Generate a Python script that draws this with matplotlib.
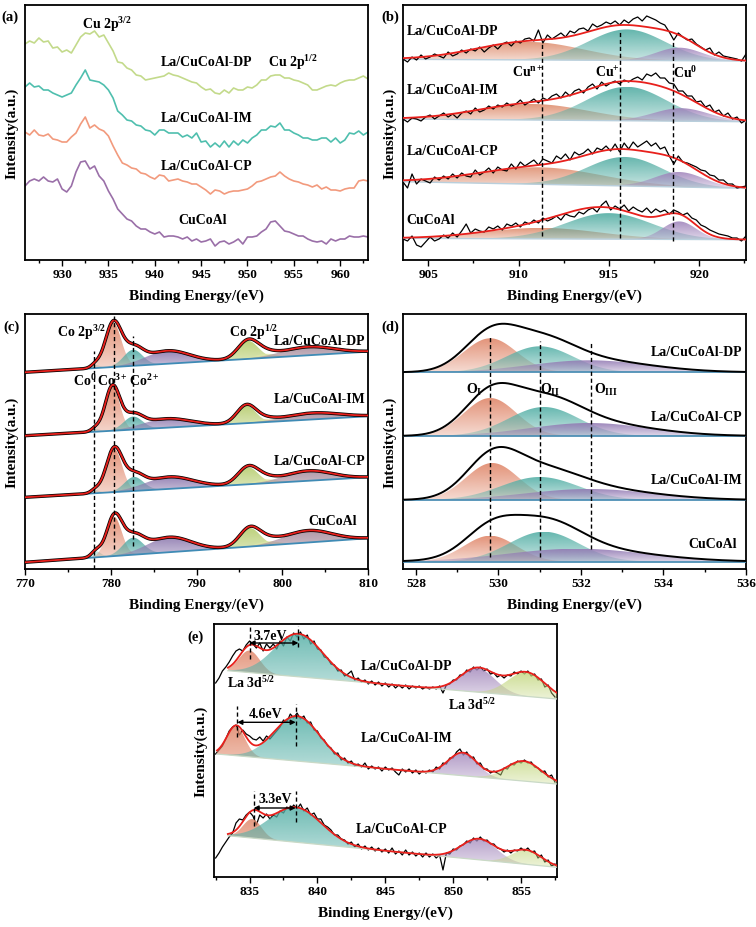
import numpy as np
import matplotlib
matplotlib.use("Agg")
import matplotlib.pyplot as plt
import matplotlib.colors as mcolors
from matplotlib.ticker import MultipleLocator

plt.rcParams['font.family'] = ['Liberation Serif', 'DejaVu Serif']
plt.rcParams['font.weight'] = 'bold'
plt.rcParams['axes.labelweight'] = 'bold'
plt.rcParams['mathtext.fontset'] = 'custom'
plt.rcParams['mathtext.rm'] = 'Liberation Serif:bold'
plt.rcParams['mathtext.it'] = 'Liberation Serif:bold:italic'
plt.rcParams['mathtext.bf'] = 'Liberation Serif:bold'
plt.rcParams['mathtext.default'] = 'rm'

# ---------------- (a) Cu 2p, stacked spectra, 926-963 eV step 0.5 ----------------
a_start, a_step = 926.0, 0.5
a_dp = [216, 219, 217, 222, 218, 219, 212, 213, 208, 210, 207, 215, 223, 227, 226, 229, 223, 225, 217, 209,
        198, 197, 192, 190, 185, 184, 180, 181, 182, 183, 184, 187, 185, 184, 182, 180, 178, 177, 173, 170,
        171, 167, 166, 170, 167, 172, 170, 170, 173, 172, 175, 180, 180, 184, 185, 185, 182, 182, 180, 179,
        177, 175, 170, 170, 172, 174, 175, 174, 177, 179, 180, 180, 182, 184, 181]
a_im = [173, 177, 173, 174, 170, 170, 167, 165, 163, 165, 167, 175, 182, 190, 180, 179, 178, 175, 170, 162,
        149, 145, 140, 139, 135, 134, 130, 129, 125, 130, 130, 127, 127, 127, 123, 125, 122, 127, 118, 119,
        113, 117, 113, 119, 113, 119, 115, 120, 117, 122, 125, 130, 130, 134, 133, 137, 130, 130, 127, 125,
        122, 122, 120, 120, 122, 122, 118, 122, 117, 120, 127, 126, 129, 125, 128]
a_cp = [128, 125, 130, 125, 124, 126, 121, 120, 118, 118, 123, 127, 136, 143, 132, 135, 131, 129, 124, 114,
        105, 97, 95, 92, 91, 87, 86, 83, 81, 85, 84, 79, 80, 81, 79, 78, 76, 76, 73, 70,
        66, 70, 69, 66, 68, 69, 69, 70, 71, 74, 78, 79, 81, 83, 84, 88, 84, 81, 79, 78,
        76, 75, 73, 75, 71, 73, 70, 70, 69, 71, 72, 72, 79, 80, 79]
a_cu = [74, 79, 81, 79, 83, 79, 78, 81, 71, 68, 74, 88, 98, 99, 91, 94, 84, 79, 69, 61,
        51, 46, 41, 39, 34, 31, 31, 28, 26, 28, 23, 24, 24, 23, 21, 23, 19, 21, 18, 19,
        21, 14, 18, 19, 16, 18, 21, 16, 23, 23, 24, 28, 31, 38, 39, 34, 29, 28, 26, 24,
        24, 21, 19, 18, 19, 16, 21, 19, 21, 21, 24, 23, 23, 24, 23]

# ---------------- (b) Cu LMM, raw step 0.25 eV from 903.6 ----------------
b_start, b_step = 903.6, 0.25
b_dp_raw = [201, 198, 203, 200, 205, 201, 203, 206, 204, 202, 208, 204, 206, 210, 207, 211, 209, 213, 208, 212,
            215, 211, 216, 218, 214, 219, 217, 221, 222, 219, 230, 217, 225, 221, 224, 227, 223, 229, 227, 231,
            232, 229, 236, 233, 235, 238, 236, 239, 235, 240, 237, 241, 243, 239, 244, 242, 240, 237, 235, 228,
            220, 227, 223, 220, 221, 216, 213, 210, 212, 205, 208, 204, 203, 202, 201, 199, 206]
b_im_raw = [141, 138, 142, 141, 139, 143, 145, 141, 144, 147, 143, 146, 142, 147, 149, 146, 152, 148, 150, 154,
            151, 155, 153, 157, 154, 156, 160, 155, 158, 161, 157, 162, 160, 164, 166, 162, 168, 164, 169, 171,
            167, 173, 176, 171, 178, 174, 177, 179, 176, 180, 178, 181, 183, 180, 186, 184, 187, 182, 182, 177,
            176, 169, 169, 164, 164, 158, 159, 153, 155, 148, 150, 144, 147, 141, 143, 137, 140]
b_cp_raw = [78, 72, 86, 76, 81, 79, 77, 83, 80, 84, 81, 86, 82, 87, 84, 83, 90, 85, 88, 92,
            87, 93, 90, 89, 96, 91, 98, 94, 97, 100, 95, 101, 99, 97, 104, 101, 106, 100, 108, 105,
            107, 111, 106, 112, 110, 114, 109, 116, 108, 117, 111, 118, 113, 116, 119, 114, 117, 111, 113, 104,
            96, 104, 98, 97, 95, 93, 90, 89, 85, 84, 80, 80, 76, 76, 72, 73, 74]
b_cu_raw = [21, 19, 24, 15, 13, 18, 23, 19, 21, 25, 22, 27, 23, 29, 36, 27, 31, 29, 28, 33,
            31, 34, 30, 36, 34, 37, 33, 38, 36, 40, 37, 42, 39, 41, 44, 40, 46, 44, 43, 48,
            46, 50, 52, 48, 55, 59, 50, 54, 51, 55, 49, 53, 50, 48, 52, 47, 51, 48, 50, 46,
            50, 48, 45, 47, 42, 40, 35, 33, 30, 28, 26, 25, 24, 22, 22, 19, 24]
# baselines (left, right) and fitted peaks (centre eV, height, FWHM): Cu n+, Cu+, Cu0
b_dp_base = (200.7, 199.0)
b_im_base = (141.0, 138.3)
b_cp_base = (78.3, 71.7)
b_cu_base = (21.7, 20.3)
b_dp_peaks = [(910.6, 18, 7.0), (916.0, 31, 5.0), (918.9, 13, 3.0)]
b_im_peaks = [(910.8, 16, 7.2), (916.0, 34, 5.2), (919.0, 13, 3.6)]
b_cp_peaks = [(911.2, 17, 8.0), (915.9, 29, 5.0), (918.9, 15, 3.2)]
b_cu_peaks = [(911.3, 11, 7.5), (915.0, 26, 5.6), (918.9, 18, 2.2)]

# ---------------- (c) Co 2p fits ----------------
# peaks: Co0, Co3+, Co2+, sat, 2p1/2, 2p1/2 Co2+, sat
c_dp_base = (196.7, 217.3)
c_im_base = (133.3, 152.7)
c_cp_base = (71.7, 91.7)
c_cu_base = (6.7, 30.7)
c_dp_peaks = [(778.2, 3, 1.2), (780.3, 44, 2.2), (782.6, 16, 2.6), (786.6, 13, 6.0),
              (796.0, 18, 2.8), (798.0, 4, 3.0), (803.0, 8.5, 7.0)]
c_im_peaks = [(778.2, 3, 1.2), (780.2, 44, 2.0), (782.6, 13, 2.6), (786.5, 9, 6.5),
              (795.8, 17.5, 2.6), (797.8, 3, 3.0), (803.5, 6.5, 7.5)]
c_cp_peaks = [(778.2, 3, 1.2), (780.4, 43, 2.2), (782.7, 14, 2.6), (786.8, 12, 6.5),
              (796.0, 17, 2.8), (798.0, 4, 3.0), (803.0, 10, 6.5)]
c_cu_peaks = [(778.3, 6, 1.3), (780.4, 39, 2.1), (782.6, 17, 2.8), (786.8, 15, 6.0),
              (796.2, 18.5, 2.8), (798.3, 4, 3.0), (803.0, 12, 6.5)]

# ---------------- (d) O 1s fits ----------------
d_dp_base, d_cp_base, d_im_base, d_cu_base = 196.7, 133.0, 69.0, 7.3
d_dp_peaks = [(529.8, 34, 1.5), (531.0, 26, 1.9), (532.2, 12, 3.4)]
d_cp_peaks = [(529.8, 38, 1.5), (531.1, 29, 2.0), (532.2, 13, 3.4)]
d_im_peaks = [(529.85, 37, 1.5), (531.0, 23, 2.2), (532.2, 11, 3.6)]
d_cu_peaks = [(529.8, 26, 1.5), (531.1, 30, 2.0), (531.9, 13, 4.0)]

# ---------------- (e) La 3d, raw step 0.25 eV from 832.5 ----------------
e_start, e_step = 832.5, 0.25
e_dp_raw = [194, 199, 206, 210, 215, 221, 226, 228, 226, 232, 236, 233, 229, 234, 226, 233, 229, 233, 228, 236,
            231, 240, 236, 244, 240, 245, 238, 242, 233, 236, 228, 227, 220, 219, 213, 212, 206, 207, 201, 203,
            206, 197, 199, 195, 197, 193, 196, 192, 195, 191, 194, 190, 193, 189, 192, 189, 192, 188, 191, 189,
            191, 188, 190, 188, 190, 188, 191, 184, 192, 193, 197, 197, 202, 202, 207, 205, 210, 207, 210, 206,
            208, 203, 204, 200, 202, 199, 202, 201, 205, 203, 206, 203, 206, 201, 203, 197, 198, 190, 192, 184, 180]
e_im_raw = [123, 127, 131, 138, 146, 150, 152, 142, 147, 143, 141, 138, 137, 140, 136, 141, 138, 142, 146, 150,
            157, 155, 163, 159, 164, 158, 161, 154, 155, 147, 146, 139, 137, 131, 129, 123, 124, 117, 119, 114,
            116, 111, 113, 110, 114, 108, 111, 108, 110, 106, 110, 107, 109, 105, 102, 108, 105, 108, 104, 107,
            103, 106, 104, 107, 105, 110, 108, 114, 113, 119, 119, 125, 128, 122, 125, 119, 120, 113, 114, 108,
            108, 104, 106, 104, 102, 109, 108, 113, 112, 116, 114, 117, 114, 115, 110, 109, 105, 106, 100, 102, 95]
e_cp_raw = [19, 24, 30, 35, 40, 44, 54, 58, 57, 62, 65, 61, 52, 62, 59, 63, 58, 62, 60, 66,
            64, 70, 67, 72, 68, 73, 66, 69, 62, 64, 58, 58, 52, 50, 47, 42, 42, 38, 37, 33,
            35, 30, 33, 28, 31, 27, 30, 26, 29, 25, 28, 24, 29, 23, 26, 22, 27, 22, 25, 21,
            24, 20, 24, 20, 23, 19, 22, 7, 24, 23, 28, 27, 31, 32, 36, 34, 39, 36, 40, 36,
            37, 33, 33, 29, 28, 25, 27, 24, 27, 26, 29, 26, 29, 25, 26, 19, 22, 15, 17, 11, 13]
# baseline (x0, y0, x1, y1); peaks: La3d satellite, main, 3d(3/2) pair
e_dp_base = (833.4, 206.3, 857.65, 178.0)
e_im_base = (832.6, 123.0, 857.65, 93.0)
e_cp_base = (833.4, 41.3, 857.65, 9.7)
e_dp_peaks = [(835.0, 22, 1.8), (838.6, 43, 4.2), (851.8, 24, 3.0), (855.4, 24, 3.2)]
e_im_peaks = [(834.0, 29, 1.6), (838.5, 45, 4.0), (850.7, 23, 2.5), (855.2, 20, 3.0)]
e_cp_peaks = [(835.2, 19, 1.6), (838.4, 35, 4.5), (851.9, 21, 3.0), (855.4, 14, 2.6)]


def gauss(x, c, h, w):
    return h * np.exp(-4 * np.log(2) * (x - c) ** 2 / w ** 2)


def grad_fill(ax, x, lo, hi, color, z, a0=0.3, a1=0.9):
    poly = ax.fill_between(x, lo, hi, facecolor='none', edgecolor='none', zorder=z)
    ramp = np.zeros((100, 1, 4))
    ramp[..., :3] = mcolors.to_rgb(color)
    ramp[:, 0, 3] = np.linspace(a0, a1, 100)
    im = ax.imshow(ramp, extent=[x[0], x[-1], lo.min(), hi.max()], origin='lower',
                   aspect='auto', interpolation='bilinear', zorder=z)
    im.set_clip_path(poly.get_paths()[0], transform=ax.transData)


def style(ax, xlim, ylim, major, minor):
    ax.set_xlim(*xlim)
    ax.set_ylim(*ylim)
    ax.set_yticks([])
    ax.xaxis.set_major_locator(MultipleLocator(major))
    ax.xaxis.set_minor_locator(MultipleLocator(minor))
    ax.tick_params(axis='x', which='major', direction='out', length=4, width=1, labelsize=9.5, pad=2)
    ax.tick_params(axis='x', which='minor', direction='out', length=2.5, width=1)
    for s in ax.spines.values():
        s.set_linewidth(1.3)
    ax.set_xlabel('Binding Energy/(eV)', fontsize=11, labelpad=6)
    ax.set_ylabel('Intensity(a.u.)', fontsize=11, labelpad=4.5)


def dash(ax, x, y0, y1):
    ax.plot([x, x], [y0, y1], color='k', lw=1.0, ls=(0, (3, 2)), zorder=6)


W, H = 756, 928
fig = plt.figure(figsize=(W / 100, H / 100), dpi=100)


def axes_px(l, t, r, b):
    return fig.add_axes([l / W, 1 - b / H, (r - l) / W, (b - t) / H])


fs = 10

# ---------------- panel (a) ----------------
ax = axes_px(25, 6, 368, 261)
xa = a_start + a_step * np.arange(len(a_dp))
ax.plot(xa, a_dp, color='#c3da8b', lw=1.2)
ax.plot(xa, a_im, color='#4fbfae', lw=1.2)
ax.plot(xa, a_cp, color='#f29a7d', lw=1.2)
ax.plot(xa, a_cu, color='#9a6fa8', lw=1.2)
ax.text(934.8, 236, 'Cu 2p$^{3/2}$', ha='center', va='center', fontsize=fs)
ax.text(954.9, 198, 'Cu 2p$^{1/2}$', ha='center', va='center', fontsize=fs)
ax.text(945.6, 198, 'La/CuCoAl-DP', ha='center', va='center', fontsize=fs)
ax.text(945.6, 143, 'La/CuCoAl-IM', ha='center', va='center', fontsize=fs)
ax.text(945.6, 94, 'La/CuCoAl-CP', ha='center', va='center', fontsize=fs)
ax.text(945.2, 41, 'CuCoAl', ha='center', va='center', fontsize=fs)
style(ax, (926, 963), (0, 255), 5, 2.5)

# ---------------- panel (b) ----------------
ax = axes_px(403, 6, 746, 261)
xb = b_start + b_step * np.arange(len(b_dp_raw))
xf = np.linspace(903.6, 922.6, 500)
b_cols = ['#de8c6c', '#52ada3', '#9f83bb']
for raw, base, peaks in [(b_dp_raw, b_dp_base, b_dp_peaks), (b_im_raw, b_im_base, b_im_peaks),
                         (b_cp_raw, b_cp_base, b_cp_peaks), (b_cu_raw, b_cu_base, b_cu_peaks)]:
    bl = base[0] + (base[1] - base[0]) * (xf - xf[0]) / (xf[-1] - xf[0])
    env = bl.copy()
    for (c, h, w), col in zip(peaks, b_cols):
        g = gauss(xf, c, h, w)
        env += g
        grad_fill(ax, xf, bl, bl + g, col, 2, 0.3, 0.9)
    ax.plot(xf, bl, color='#b9cfdc', lw=1.0, zorder=3)
    ax.plot(xb, raw, color='k', lw=0.9, zorder=4)
    ax.plot(xf, env, color='#e8201c', lw=1.3, zorder=5)
dash(ax, 911.3, 23.7, 216)
dash(ax, 915.6, 21.7, 227.7)
dash(ax, 918.55, 19.3, 219.3)
ax.text(910.5, 188.3, 'Cu$^{n+}$', ha='center', va='center', fontsize=fs)
ax.text(914.9, 188.3, 'Cu$^{+}$', ha='center', va='center', fontsize=fs)
ax.text(919.25, 188.3, 'Cu$^{0}$', ha='center', va='center', fontsize=fs)
ax.text(903.8, 229.3, 'La/CuCoAl-DP', ha='left', va='center', fontsize=fs)
ax.text(903.8, 170.3, 'La/CuCoAl-IM', ha='left', va='center', fontsize=fs)
ax.text(903.8, 109.3, 'La/CuCoAl-CP', ha='left', va='center', fontsize=fs)
ax.text(903.8, 41, 'CuCoAl', ha='left', va='center', fontsize=fs)
style(ax, (903.6, 922.6), (0, 255), 5, 2.5)

# ---------------- panel (c) ----------------
ax = axes_px(25, 315, 368, 570)
xf = np.linspace(770, 810, 800)
c_cols = ['#8fd1c7', '#e0876a', '#4fa9a3', '#8a76ad', '#b5cc6c', '#dfe6a5', '#a88d9d']
for base, peaks in [(c_dp_base, c_dp_peaks), (c_im_base, c_im_peaks),
                    (c_cp_base, c_cp_peaks), (c_cu_base, c_cu_peaks)]:
    bl = base[0] + (base[1] - base[0]) * (xf - 770) / 40
    env = bl.copy()
    for (c, h, w), col in zip(peaks, c_cols):
        g = gauss(xf, c, h, w)
        env += g
        grad_fill(ax, xf, bl, bl + g, col, 2, 0.3, 0.9)
    ax.plot(xf, bl, color='#3f8bb5', lw=1.3, zorder=3)
    ax.plot(xf, env, color='k', lw=2.4, zorder=4)
    ax.plot(xf, env, color='#e8201c', lw=1.3, zorder=5)
dash(ax, 778.1, 0, 218.3)
dash(ax, 780.4, 20, 253.3)
dash(ax, 782.6, 22.7, 233.3)
ax.text(777.0, 189.3, 'Co$^{0}$', ha='center', va='center', fontsize=fs)
ax.text(780.2, 189.3, 'Co$^{3+}$', ha='center', va='center', fontsize=fs)
ax.text(783.9, 189.3, 'Co$^{2+}$', ha='center', va='center', fontsize=fs)
ax.text(776.6, 237.3, 'Co 2p$^{3/2}$', ha='center', va='center', fontsize=fs)
ax.text(796.7, 237.3, 'Co 2p$^{1/2}$', ha='center', va='center', fontsize=fs)
ax.text(804.4, 228.3, 'La/CuCoAl-DP', ha='center', va='center', fontsize=fs)
ax.text(804.4, 170.7, 'La/CuCoAl-IM', ha='center', va='center', fontsize=fs)
ax.text(804.4, 108.3, 'La/CuCoAl-CP', ha='center', va='center', fontsize=fs)
ax.text(805.9, 48.3, 'CuCoAl', ha='center', va='center', fontsize=fs)
style(ax, (770, 810), (0, 255), 10, 5)

# ---------------- panel (d) ----------------
ax = axes_px(403, 315, 746, 570)
xf = np.linspace(527.7, 536.0, 600)
d_cols = ['#e0876a', '#56b0a7', '#937bb4']
for base, peaks in [(d_dp_base, d_dp_peaks), (d_cp_base, d_cp_peaks),
                    (d_im_base, d_im_peaks), (d_cu_base, d_cu_peaks)]:
    bl = np.full_like(xf, base)
    env = bl.copy()
    for (c, h, w), col in zip(peaks, d_cols):
        g = gauss(xf, c, h, w)
        env += g
        grad_fill(ax, xf, bl, bl + g, col, 2, 0.3, 0.9)
    ax.plot(xf, bl, color='#4e90b5', lw=1.3, zorder=3)
    ax.plot(xf, env, color='k', lw=1.4, zorder=5)
dash(ax, 529.8, 11.7, 232.3)
dash(ax, 531.0, 11.7, 228.3)
dash(ax, 532.25, 19.7, 227.3)
ax.text(529.4, 179.7, 'O$_{I}$', ha='center', va='center', fontsize=fs)
ax.text(531.25, 179.7, 'O$_{II}$', ha='center', va='center', fontsize=fs)
ax.text(532.6, 179.7, 'O$_{III}$', ha='center', va='center', fontsize=fs)
ax.text(534.8, 217.3, 'La/CuCoAl-DP', ha='center', va='center', fontsize=fs)
ax.text(534.8, 152.3, 'La/CuCoAl-CP', ha='center', va='center', fontsize=fs)
ax.text(534.8, 89, 'La/CuCoAl-IM', ha='center', va='center', fontsize=fs)
ax.text(535.2, 25, 'CuCoAl', ha='center', va='center', fontsize=fs)
style(ax, (527.685, 536.0), (0, 255), 2, 1)

# ---------------- panel (e) ----------------
ax = axes_px(214, 625, 557, 878)
xe = e_start + e_step * np.arange(len(e_dp_raw))
e_cols = ['#e0876a', '#56b0a7', '#a58bbd', '#c2d67c']
for raw, base, peaks in [(e_dp_raw, e_dp_base, e_dp_peaks), (e_im_raw, e_im_base, e_im_peaks),
                         (e_cp_raw, e_cp_base, e_cp_peaks)]:
    ax.plot(xe, raw, color='k', lw=0.9, zorder=2)
    xf = np.linspace(base[0], base[2], 600)
    bl = base[1] + (base[3] - base[1]) * (xf - base[0]) / (base[2] - base[0])
    env = bl.copy()
    for (c, h, w), col in zip(peaks, e_cols):
        g = gauss(xf, c, h, w)
        env += g
        grad_fill(ax, xf, bl, bl + g, col, 3, 0.3, 0.85)
    ax.plot(xf, bl, color='#c9d9c6', lw=0.9, zorder=3.5)
    ax.plot(xf, env, color='#e8201c', lw=1.3, zorder=5)
arrow = dict(arrowstyle='<|-|>', color='k', lw=1.0, mutation_scale=7, shrinkA=0, shrinkB=0)
dash(ax, 835.0, 218, 249.7)
dash(ax, 838.6, 229.7, 251.3)
ax.annotate('', xy=(838.6, 234), xytext=(835.0, 234), arrowprops=arrow, zorder=6)
ax.text(836.5, 241.3, '3.7eV', ha='center', va='center', fontsize=fs)
dash(ax, 834.1, 139.7, 171.3)
dash(ax, 838.4, 131.3, 173)
ax.annotate('', xy=(838.4, 154.7), xytext=(834.1, 154.7), arrowprops=arrow, zorder=6)
ax.text(836.2, 163, '4.6eV', ha='center', va='center', fontsize=fs)
dash(ax, 835.3, 51.3, 86.3)
dash(ax, 838.4, 54.7, 86.3)
ax.annotate('', xy=(838.4, 69), xytext=(835.3, 69), arrowprops=arrow, zorder=6)
ax.text(836.9, 78, '3.3eV', ha='center', va='center', fontsize=fs)
ax.text(835.1, 194.7, 'La 3d$^{5/2}$', ha='center', va='center', fontsize=fs)
ax.text(851.4, 173, 'La 3d$^{5/2}$', ha='center', va='center', fontsize=fs)
ax.text(846.6, 211.3, 'La/CuCoAl-DP', ha='center', va='center', fontsize=fs)
ax.text(846.6, 139.7, 'La/CuCoAl-IM', ha='center', va='center', fontsize=fs)
ax.text(846.2, 48, 'La/CuCoAl-CP', ha='center', va='center', fontsize=fs)
style(ax, (832.38, 857.65), (0, 253), 5, 2.5)

# panel letters
for lab, px, py in [('(a)', 10, 17), ('(b)', 390, 17), ('(c)', 11, 327), ('(d)', 390, 327), ('(e)', 195, 637)]:
    fig.text(px / W, 1 - py / H, lab, ha='center', va='center', fontsize=10.5)

fig.savefig('out.png', dpi=100)
